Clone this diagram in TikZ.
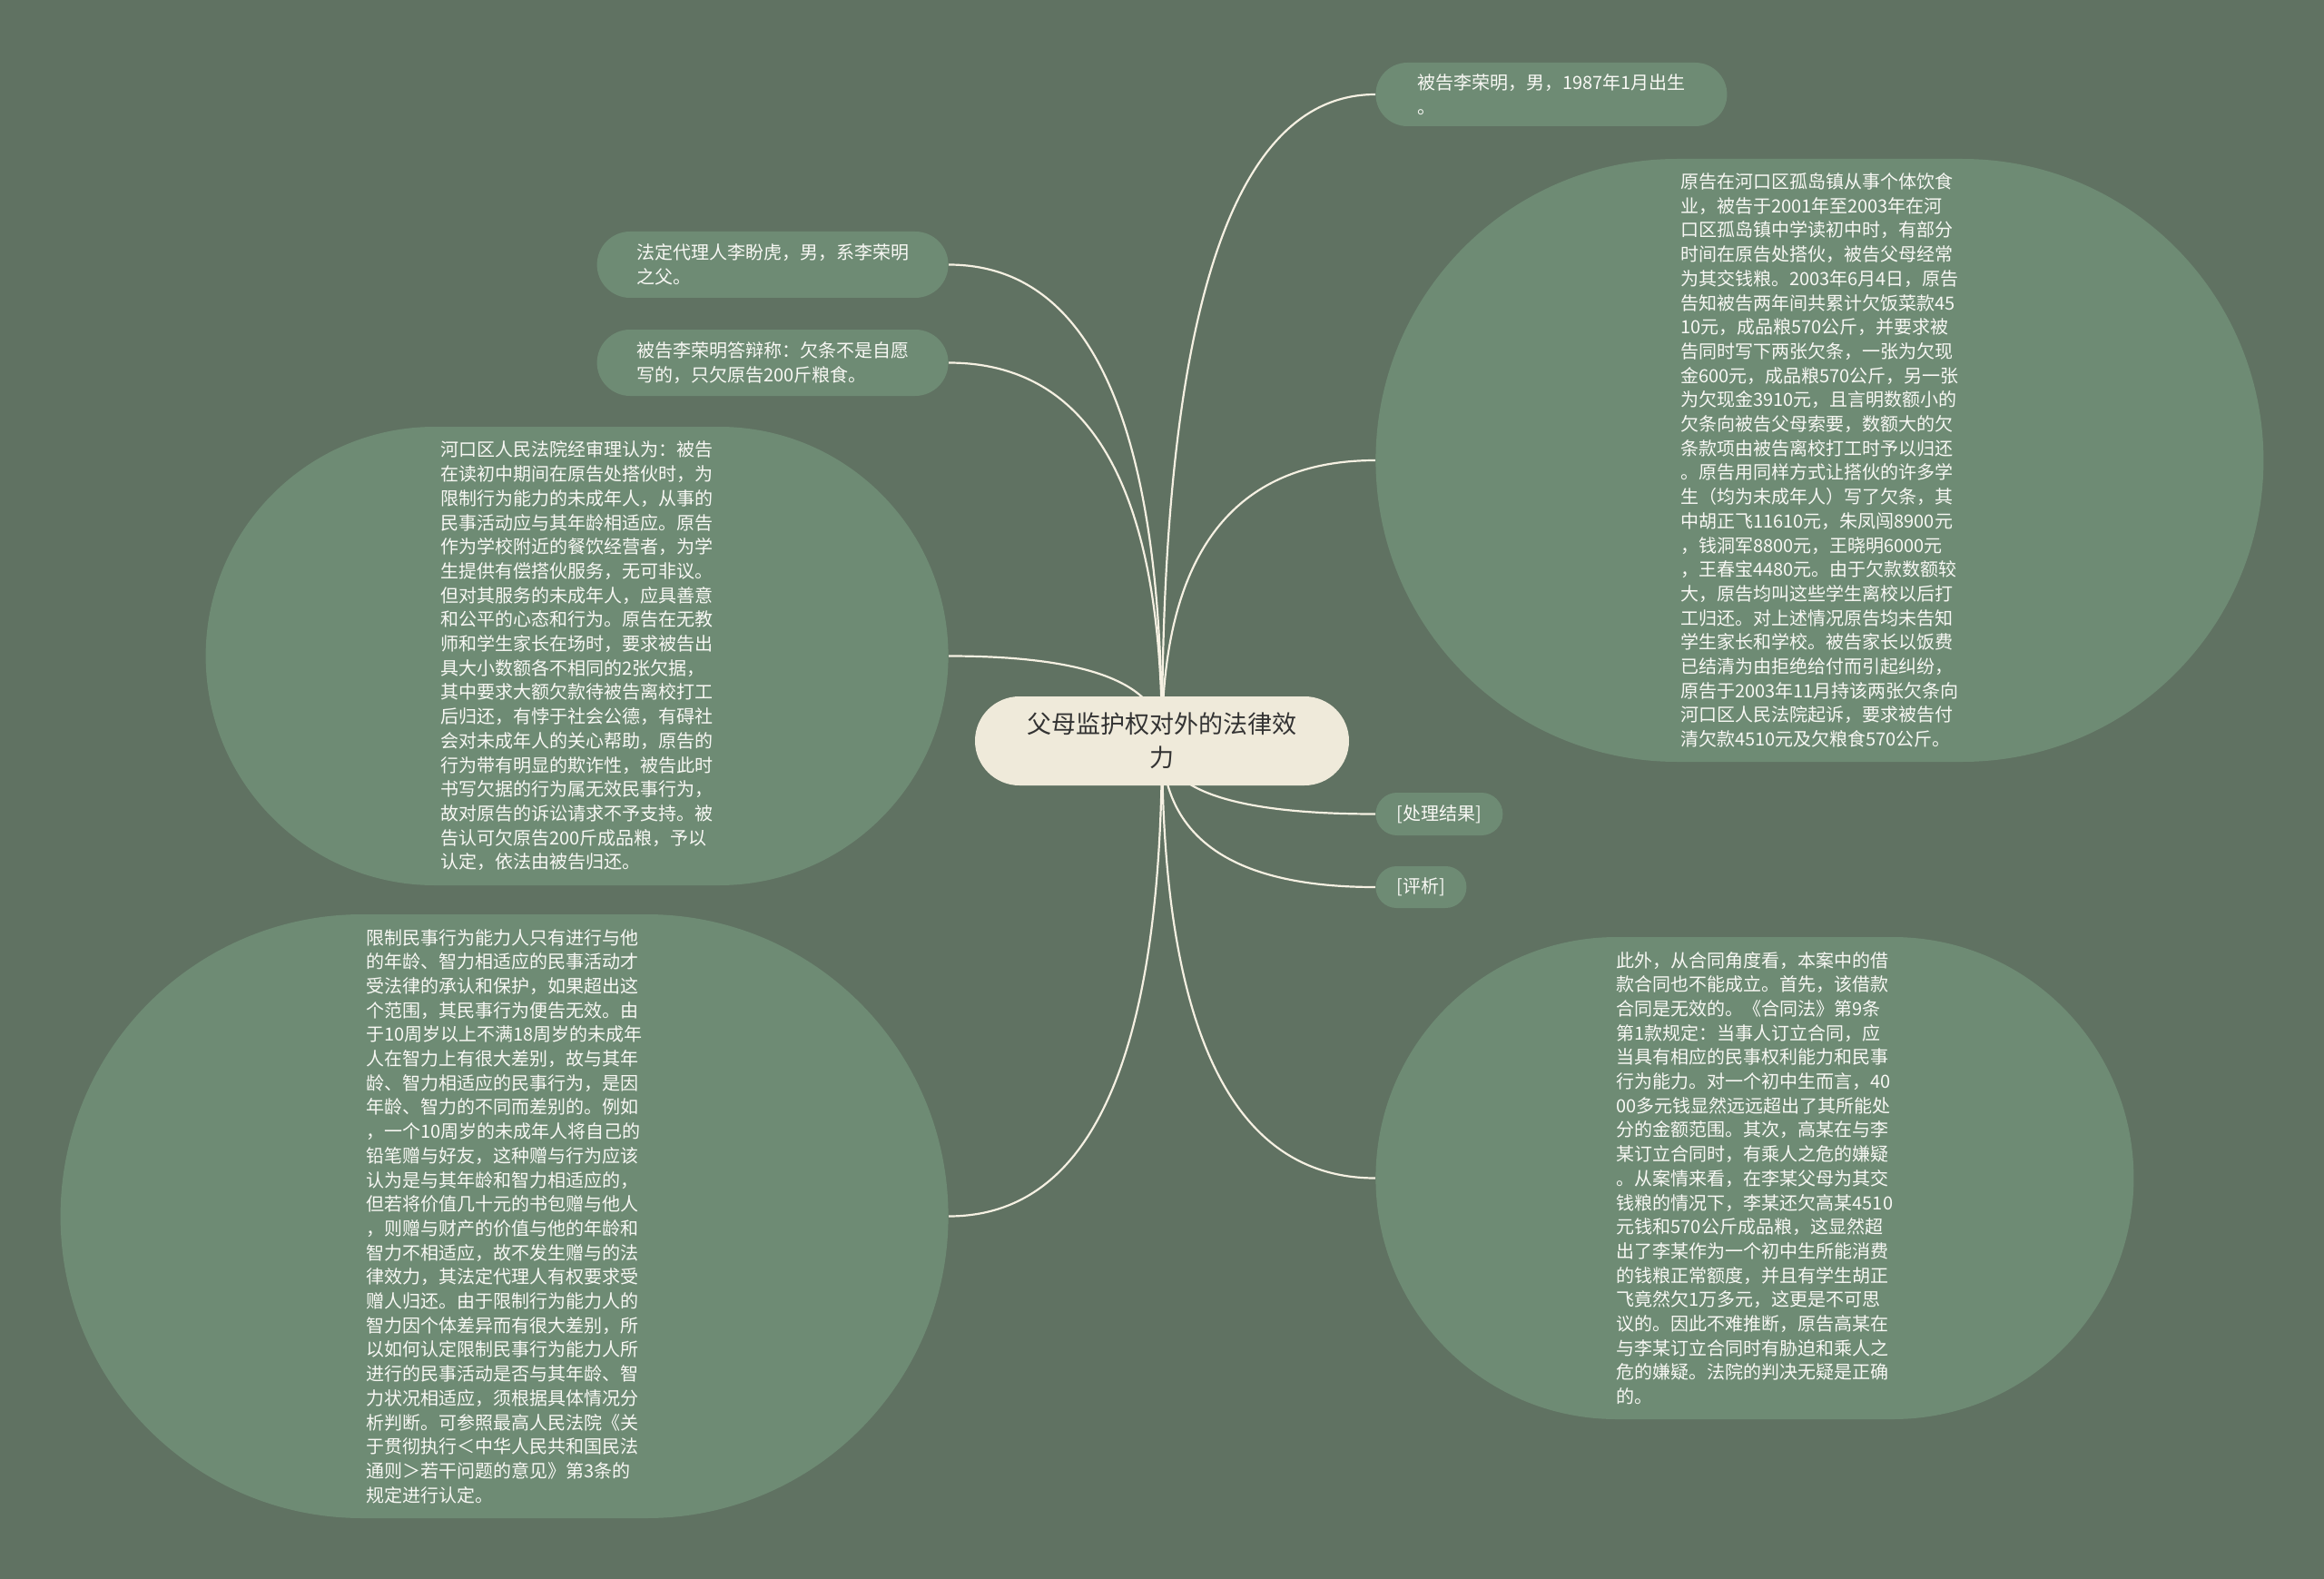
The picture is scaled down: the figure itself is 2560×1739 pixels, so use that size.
\documentclass[tikz,border=0pt]{standalone}
\usepackage{fontspec}
\setmainfont{Noto Sans CJK SC}
\usetikzlibrary{calc,shapes.misc,backgrounds}
\definecolor{cpaper}{RGB}{96,114,98}
\definecolor{cleaf}{RGB}{110,139,116}
\definecolor{croot}{RGB}{239,234,218}
\definecolor{clink}{RGB}{245,240,226}
\definecolor{ctext}{RGB}{248,248,244}

\begin{document}
\begin{tikzpicture}[x=0.5pt,y=-0.5pt,
   leaf/.style={rounded rectangle,fill=cleaf,text=ctext,inner sep=0pt,align=left,
     font=\fontsize{10}{13.35}\selectfont},
   hub/.style={rounded rectangle,fill=croot,text=black!80,inner sep=0pt,align=center,
     minimum width=206pt,minimum height=49pt,font=\fontsize{13.5}{18.5}\selectfont},
   link/.style={draw=clink,line width=1.1pt}]
  \useasboundingbox (0,0) rectangle (2560,1739);
  % centre topic
  \node[hub] (root) at (1280,816) {父母监护权对外的法律效\\力};
  % right side
  \node[leaf,anchor=west,minimum width=193.5pt,minimum height=35pt] (n1) at (1515,104) {被告李荣明，男，1987年1月出生\\。};
  \node[leaf,anchor=west,minimum width=489pt,minimum height=332pt] (n2) at (1515,507) {原告在河口区孤岛镇从事个体饮食\\业，被告于2001年至2003年在河\\口区孤岛镇中学读初中时，有部分\\时间在原告处搭伙，被告父母经常\\为其交钱粮。2003年6月4日，原告\\告知被告两年间共累计欠饭菜款45\\10元，成品粮570公斤，并要求被\\告同时写下两张欠条，一张为欠现\\金600元，成品粮570公斤，另一张\\为欠现金3910元，且言明数额小的\\欠条向被告父母索要，数额大的欠\\条款项由被告离校打工时予以归还\\。原告用同样方式让搭伙的许多学\\生（均为未成年人）写了欠条，其\\中胡正飞11610元，朱凤闯8900元\\，钱洞军8800元，王晓明6000元\\，王春宝4480元。由于欠款数额较\\大，原告均叫这些学生离校以后打\\工归还。对上述情况原告均未告知\\学生家长和学校。被告家长以饭费\\已结清为由拒绝给付而引起纠纷，\\原告于2003年11月持该两张欠条向\\河口区人民法院起诉，要求被告付\\清欠款4510元及欠粮食570公斤。};
  \node[leaf,anchor=west,minimum width=70pt,minimum height=23.5pt] (n3) at (1515,896.5) {[处理结果]};
  \node[leaf,anchor=west,minimum width=50pt,minimum height=23pt] (n4) at (1515,977) {[评析]};
  \node[leaf,anchor=west,minimum width=417.5pt,minimum height=265.5pt] (n5) at (1515,1297.5) {此外，从合同角度看，本案中的借\\款合同也不能成立。首先，该借款\\合同是无效的。《合同法》第9条\\第1款规定：当事人订立合同，应\\当具有相应的民事权利能力和民事\\行为能力。对一个初中生而言，40\\00多元钱显然远远超出了其所能处\\分的金额范围。其次，高某在与李\\某订立合同时，有乘人之危的嫌疑\\。从案情来看，在李某父母为其交\\钱粮的情况下，李某还欠高某4510\\元钱和570公斤成品粮，这显然超\\出了李某作为一个初中生所能消费\\的钱粮正常额度，并且有学生胡正\\飞竟然欠1万多元，这更是不可思\\议的。因此不难推断，原告高某在\\与李某订立合同时有胁迫和乘人之\\危的嫌疑。法院的判决无疑是正确\\的。};
  % left side
  \node[leaf,anchor=east,minimum width=193.5pt,minimum height=36.5pt] (m1) at (1045,291.5) {法定代理人李盼虎，男，系李荣明\\之父。};
  \node[leaf,anchor=east,minimum width=193.5pt,minimum height=36.5pt] (m2) at (1045,399.5) {被告李荣明答辩称：欠条不是自愿\\写的，只欠原告200斤粮食。};
  \node[leaf,anchor=east,minimum width=409pt,minimum height=252.5pt] (m3) at (1045,722.5) {河口区人民法院经审理认为：被告\\在读初中期间在原告处搭伙时，为\\限制行为能力的未成年人，从事的\\民事活动应与其年龄相适应。原告\\作为学校附近的餐饮经营者，为学\\生提供有偿搭伙服务，无可非议。\\但对其服务的未成年人，应具善意\\和公平的心态和行为。原告在无教\\师和学生家长在场时，要求被告出\\具大小数额各不相同的2张欠据，\\其中要求大额欠款待被告离校打工\\后归还，有悖于社会公德，有碍社\\会对未成年人的关心帮助，原告的\\行为带有明显的欺诈性，被告此时\\书写欠据的行为属无效民事行为，\\故对原告的诉讼请求不予支持。被\\告认可欠原告200斤成品粮，予以\\认定，依法由被告归还。};
  \node[leaf,anchor=east,minimum width=489pt,minimum height=332.5pt] (m4) at (1045,1339.5) {限制民事行为能力人只有进行与他\\的年龄、智力相适应的民事活动才\\受法律的承认和保护，如果超出这\\个范围，其民事行为便告无效。由\\于10周岁以上不满18周岁的未成年\\人在智力上有很大差别，故与其年\\龄、智力相适应的民事行为，是因\\年龄、智力的不同而差别的。例如\\，一个10周岁的未成年人将自己的\\铅笔赠与好友，这种赠与行为应该\\认为是与其年龄和智力相适应的，\\但若将价值几十元的书包赠与他人\\，则赠与财产的价值与他的年龄和\\智力不相适应，故不发生赠与的法\\律效力，其法定代理人有权要求受\\赠人归还。由于限制行为能力人的\\智力因个体差异而有很大差别，所\\以如何认定限制民事行为能力人所\\进行的民事活动是否与其年龄、智\\力状况相适应，须根据具体情况分\\析判断。可参照最高人民法院《关\\于贯彻执行＜中华人民共和国民法\\通则＞若干问题的意见》第3条的\\规定进行认定。};
  % paper and links behind the nodes
  \begin{scope}[on background layer]
    \fill[cpaper] (0,0) rectangle (2560,1739);
    \foreach \n/\a in {n1/west,n2/west,n3/west,n4/west,n5/west,m1/east,m2/east,m3/east,m4/east}
      \draw[link] (root.center) .. controls ($(root.center)!.667!(root.center |- \n.\a)$) and ($(\n.\a)!.667!(root.center |- \n.\a)$) .. (\n.\a);
  \end{scope}
\end{tikzpicture}
\end{document}
